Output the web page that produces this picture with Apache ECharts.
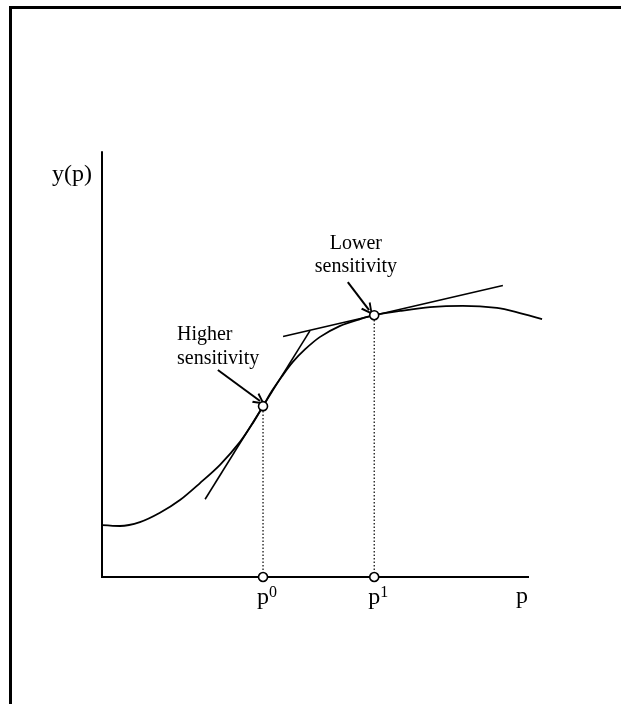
<!DOCTYPE html>
<html>
<head>
<meta charset="utf-8">
<script src="https://cdn.jsdelivr.net/npm/echarts@6/dist/echarts.min.js"></script>
<style>
  html, body { margin: 0; padding: 0; background: #fff; }
  #chart { width: 621px; height: 704px; }
</style>
</head>
<body>
<div id="chart"></div>
<script>
// ---- data (abstract units: x 0..10, y 0..10) ----
var curveX = [0.00, 0.42, 0.89, 1.36, 1.83, 2.30, 2.77, 3.24, 3.54, 3.78, 3.99, 4.23, 4.48, 4.77, 5.12, 5.59, 6.06, 6.39, 7.00, 7.70, 8.47, 9.27, 9.81, 10.33];
var curveY = [1.22, 1.20, 1.29, 1.51, 1.81, 2.21, 2.64, 3.18, 3.62, 4.02, 4.38, 4.73, 5.06, 5.36, 5.65, 5.91, 6.07, 6.16, 6.26, 6.35, 6.38, 6.33, 6.21, 6.07];

var pointX = [3.78, 6.39];          // p0, p1
var pointY = [4.02, 6.16];          // y(p0), y(p1)
var pointLabels = ['0', '1'];       // superscripts of p

var tangent0X = [2.42, 4.88];
var tangent0Y = [1.83, 5.79];
var tangent1X = [4.25, 9.41];
var tangent1Y = [5.66, 6.86];

var arrowHigherX = [2.72, 3.71];
var arrowHigherY = [4.87, 4.14];
var arrowLowerX = [5.77, 6.27];
var arrowLowerY = [6.94, 6.28];

var noteTexts = ['Higher\nsensitivity', 'Lower\nsensitivity'];
var noteX = [1.76, 5.96];
var noteY = [5.41, 7.56];

var axisX = [0, 10];                // drawn extent of the horizontal axis
var axisNameX = 'p';
var axisNameY = 'y(p)';

// ---- build ----
function zip(xs, ys) { return xs.map(function (x, i) { return [x, ys[i]]; }); }

var FONT = 'Liberation Serif, Times New Roman, serif';
var X_MAX = 10.5;
var UNIT = 42.6;
var chart = echarts.init(document.getElementById('chart'), null, { renderer: 'canvas' });

var option = {
  animation: false,
  backgroundColor: '#fff',
  grid: { left: 102, top: 152, width: UNIT * X_MAX, height: 425, containLabel: false },
  xAxis: {
    type: 'value', min: 0, max: X_MAX,
    name: axisNameX, nameLocation: 'end', nameGap: 0,
    nameTextStyle: { fontFamily: FONT, fontSize: 24, color: '#000', align: 'right', verticalAlign: 'top', padding: [8, UNIT * (X_MAX - 10), 0, 0] },
    axisLine: { show: false },
    axisTick: { show: false },
    splitLine: { show: false },
    axisLabel: {
      show: true,
      customValues: pointX,
      margin: 8,
      formatter: function (v) {
        var i = pointX.indexOf(v);
        return '{g| }{b|p}{s|' + pointLabels[i] + '}';
      },
      rich: {
        g: { width: 8, fontSize: 24, fontFamily: FONT },
        b: { fontFamily: FONT, fontSize: 24, color: '#000', lineHeight: 26 },
        s: { fontFamily: FONT, fontSize: 16, color: '#000', verticalAlign: 'top', lineHeight: 18 }
      }
    }
  },
  yAxis: {
    type: 'value', min: 0, max: 10,
    name: axisNameY, nameLocation: 'end', nameGap: -23,
    nameTextStyle: { fontFamily: FONT, fontSize: 24, color: '#000', align: 'right', verticalAlign: 'middle', padding: [0, 10, 0, 0] },
    axisLine: { show: true, onZero: false, lineStyle: { color: '#000', width: 2 } },
    axisTick: { show: false },
    splitLine: { show: false },
    axisLabel: { show: false }
  },
  graphic: [
    { type: 'line', shape: { x1: 9, y1: 7.5, x2: 621, y2: 7.5 }, style: { stroke: '#000', lineWidth: 3 } },
    { type: 'line', shape: { x1: 10.5, y1: 6, x2: 10.5, y2: 704 }, style: { stroke: '#000', lineWidth: 3 } }
  ],
  series: [
    {
      type: 'line', data: axisX.map(function (x) { return [x, 0]; }), showSymbol: false, clip: false,
      lineStyle: { color: '#000', width: 2, cap: 'square' }, z: 1
    },
    {
      type: 'line', data: zip(curveX, curveY), smooth: 0.3, showSymbol: false, clip: false,
      lineStyle: { color: '#000', width: 1.8 }, z: 3
    },
    {
      type: 'line', data: zip(tangent0X, tangent0Y), showSymbol: false, clip: false,
      lineStyle: { color: '#000', width: 1.6 }, z: 3
    },
    {
      type: 'line', data: zip(tangent1X, tangent1Y), showSymbol: false, clip: false,
      lineStyle: { color: '#000', width: 1.6 }, z: 3
    },
    {
      type: 'line', data: [[pointX[0], 0], [pointX[0], pointY[0]]], showSymbol: false,
      lineStyle: { color: '#000', width: 1.2, type: [1.5, 2] }, z: 2
    },
    {
      type: 'line', data: [[pointX[1], 0], [pointX[1], pointY[1]]], showSymbol: false,
      lineStyle: { color: '#000', width: 1.2, type: [1.5, 2] }, z: 2
    },
    {
      type: 'scatter', clip: false,
      data: zip(pointX, pointY).concat(pointX.map(function (x) { return [x, 0]; })),
      symbol: 'circle', symbolSize: 9,
      itemStyle: { color: '#fff', borderColor: '#000', borderWidth: 1.6, opacity: 1 }, z: 5
    },
    {
      type: 'lines', coordinateSystem: 'cartesian2d', polyline: false,
      symbol: ['none', 'path://M5,0 L10,12 L8.4,12.6 L5,4 L1.6,12.6 L0,12 Z'], symbolSize: [10, 12],
      lineStyle: { color: '#000', width: 2, opacity: 1 },
      itemStyle: { color: '#000' },
      data: [
        { coords: zip(arrowHigherX, arrowHigherY) },
        { coords: zip(arrowLowerX, arrowLowerY) }
      ], z: 4
    },
    {
      type: 'scatter', clip: false, symbolSize: 0,
      itemStyle: { opacity: 1 },
      data: zip(noteX, noteY).map(function (p, i) {
        return {
          value: p,
          label: {
            show: true, position: 'inside', formatter: noteTexts[i],
            align: i === 0 ? 'left' : 'center', verticalAlign: 'middle',
            fontFamily: FONT, fontSize: 20, lineHeight: i === 0 ? 24 : 23, color: '#000'
          }
        };
      }), z: 6
    }
  ]
};
chart.setOption(option);
</script>
</body>
</html>
